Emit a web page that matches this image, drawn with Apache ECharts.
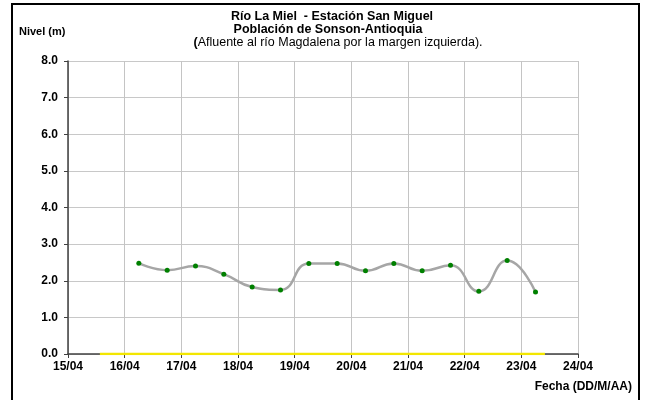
<!DOCTYPE html>
<html>
<head>
<meta charset="utf-8">
<script src="https://cdn.jsdelivr.net/npm/echarts@6/dist/echarts.min.js"></script>
<style>
  html, body { margin: 0; padding: 0; background: #fff; }
  #chart { width: 658px; height: 400px; }
</style>
</head>
<body>
<div id="chart"></div>
<script>
// lecturas de nivel (m), fecha DD/MM HH:mm
var fechas = ['16/04 06:00', '16/04 18:00', '17/04 06:00', '17/04 18:00', '18/04 06:00',
              '18/04 18:00', '19/04 06:00', '19/04 18:00', '20/04 06:00', '20/04 18:00',
              '21/04 06:00', '21/04 18:00', '22/04 06:00', '22/04 18:00', '23/04 06:00'];
var niveles = [2.48, 2.29, 2.40, 2.18, 1.83, 1.75, 2.47, 2.47, 2.27, 2.47, 2.27, 2.42, 1.71, 2.55, 1.69];
// linea de referencia (amarilla) en 0
var refFechas = ['15/04 13:30', '23/04 10:00'];
var refNiveles = [0, 0];
var yTicks = [0, 1, 2, 3, 4, 5, 6, 7, 8];
var xDias = [15, 16, 17, 18, 19, 20, 21, 22, 23, 24];

function aDia(s) {
    // '16/04 06:00' -> 16.25
    var p = s.split(' ');
    var d = parseInt(p[0].split('/')[0], 10);
    var hm = p[1].split(':');
    return d + (parseInt(hm[0], 10) + parseInt(hm[1], 10) / 60) / 24;
}

var serie = fechas.map(function (f, i) { return [aDia(f), niveles[i]]; });
var ref = refFechas.map(function (f, i) { return [aDia(f), refNiveles[i]]; });

var font = '"Liberation Sans", Arial, sans-serif';
var chart = echarts.init(document.getElementById('chart'));

var option = {
    backgroundColor: '#fff',
    animation: false,
    title: [
        {
            text: 'Río La Miel  - Estación San Miguel',
            left: 332, top: 10, padding: 0, textAlign: 'center',
            textStyle: { fontFamily: font, fontSize: 12.5, fontWeight: 'bold', color: '#000' }
        },
        {
            text: 'Población de Sonson-Antioquia',
            left: 328, top: 23, padding: 0, textAlign: 'center',
            textStyle: { fontFamily: font, fontSize: 12.5, fontWeight: 'bold', color: '#000' }
        },
        {
            text: '{b|(}Afluente al río Magdalena por la margen izquierda).',
            left: 338, top: 36, padding: 0, textAlign: 'center',
            textStyle: {
                fontFamily: font, fontSize: 12.5, fontWeight: 'normal', color: '#000',
                rich: { b: { fontFamily: font, fontSize: 12.5, fontWeight: 'bold', color: '#000' } }
            }
        },
        {
            text: 'Nivel (m)',
            left: 19, top: 26, padding: 0,
            textStyle: { fontFamily: font, fontSize: 11, fontWeight: 'bold', color: '#000' }
        },
        {
            text: 'Fecha (DD/M/AA)',
            right: 26, top: 381, padding: 0,
            textStyle: { fontFamily: font, fontSize: 12, fontWeight: 'bold', color: '#000' }
        }
    ],
    graphic: [
        {
            type: 'rect',
            shape: { x: 12, y: 4, width: 627, height: 400 },
            style: { fill: 'none', stroke: '#000', lineWidth: 2 },
            silent: true
        }
    ],
    grid: { left: 68, right: 80, top: 61, bottom: 46, containLabel: false },
    xAxis: {
        type: 'value',
        min: xDias[0],
        max: xDias[xDias.length - 1],
        interval: 1,
        axisLine: { lineStyle: { color: '#404040', width: 1.5 } },
        axisTick: { show: true, length: 4, lineStyle: { color: '#404040' } },
        axisLabel: {
            margin: 7,
            fontFamily: font, fontSize: 12, fontWeight: 'bold', color: '#000',
            formatter: function (v) { return (v < 10 ? '0' : '') + v + '/04'; }
        },
        splitLine: { show: true, lineStyle: { color: '#c4c4c4', width: 1 } }
    },
    yAxis: {
        type: 'value',
        min: yTicks[0],
        max: yTicks[yTicks.length - 1],
        interval: 1,
        axisLine: { show: true, lineStyle: { color: '#404040', width: 1.5 } },
        axisTick: { show: true, length: 4, lineStyle: { color: '#404040' } },
        axisLabel: {
            margin: 10,
            fontFamily: font, fontSize: 12, fontWeight: 'bold', color: '#000',
            formatter: function (v) { return v.toFixed(1); }
        },
        splitLine: { show: true, lineStyle: { color: '#c8c8c8', width: 1 } }
    },
    series: [
        {
            name: 'ref',
            type: 'line',
            data: ref,
            symbol: 'none',
            lineStyle: { color: '#f2e600', width: 2.5 },
            z: 3
        },
        {
            name: 'Nivel',
            type: 'line',
            data: serie,
            smooth: 0.5,
            symbol: 'circle',
            symbolSize: 5,
            itemStyle: { color: '#008000' },
            lineStyle: { color: '#a6a6a6', width: 2.5 },
            z: 4
        }
    ]
};
chart.setOption(option);
</script>
</body>
</html>
